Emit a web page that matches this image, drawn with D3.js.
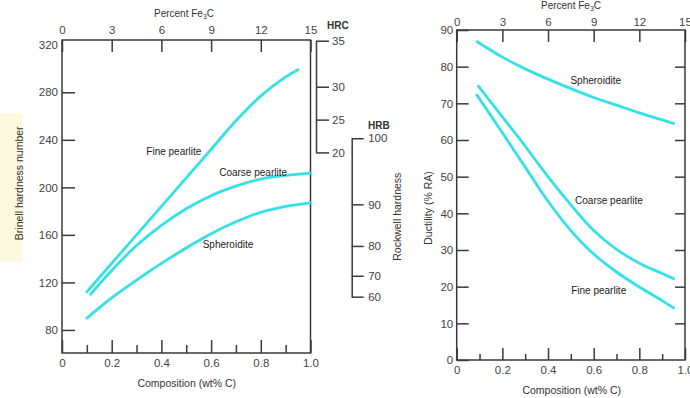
<!DOCTYPE html>
<html>
<head>
<meta charset="utf-8">
<script src="https://cdn.jsdelivr.net/npm/d3@7"></script>
<style>
  body { margin: 0; background: #fff; }
  svg { display: block; font-family: "Liberation Sans", Arial, sans-serif; }
</style>
</head>
<body>
<script>
// ---- values ----

// Brinell hardness vs composition (wt% C)
var fineHbC    = [0.10, 0.20, 0.30, 0.40, 0.50, 0.60, 0.70, 0.80, 0.90, 0.95];
var fineHb     = [112, 136, 160, 184, 208, 232, 256, 277, 293, 299];
var coarseHbC  = [0.115, 0.20, 0.30, 0.40, 0.50, 0.60, 0.70, 0.80, 0.90, 1.00];
var coarseHb   = [110, 130, 151, 168, 182, 193, 201, 207, 210, 212];
var sphHbC     = [0.10, 0.20, 0.30, 0.40, 0.50, 0.60, 0.70, 0.80, 0.90, 1.00];
var sphHb      = [90, 107, 122, 136, 149, 161, 171, 179, 184, 187];

// Ductility (% RA) vs composition (wt% C)
var sphRaC     = [0.09, 0.20, 0.30, 0.40, 0.50, 0.60, 0.70, 0.80, 0.90, 0.95];
var sphRa      = [86.8, 82.6, 79.4, 76.6, 74.0, 71.6, 69.5, 67.4, 65.5, 64.5];
var coarseRaC  = [0.095, 0.20, 0.30, 0.40, 0.50, 0.60, 0.70, 0.80, 0.90, 0.95];
var coarseRa   = [74.7, 66.3, 58.3, 50, 42.3, 35.3, 30.2, 26.4, 23.6, 22.2];
var fineRaC    = [0.088, 0.20, 0.30, 0.40, 0.50, 0.60, 0.70, 0.80, 0.90, 0.95];
var fineRa     = [72.3, 62, 52.6, 43.3, 35.3, 28.9, 24, 19.9, 16.2, 14.2];

// tick labels
var hbTicks    = [80, 120, 160, 200, 240, 280, 320];
var raTicks    = [0, 10, 20, 30, 40, 50, 60, 70, 80, 90];
var compMajor  = [0, 0.2, 0.4, 0.6, 0.8, 1.0];
var compMinor  = [0.1, 0.3, 0.5, 0.7, 0.9];
var fe3cTicks  = [0, 3, 6, 9, 12, 15];

// Rockwell scales and the Brinell number each tick sits at
var hrcTicks   = [20, 25, 30, 35];
var hrcAsHb    = [229.4, 257, 284.7, 323.4];
var hrbTicks   = [60, 70, 80, 90, 100];
var hrbAsHb    = [108, 125.6, 150.7, 185.7, 241.3];

// curve names and where their labels sit (data units)
var hbLabels = [["Fine pearlite", 0.45, 230], ["Coarse pearlite", 0.769, 212.5], ["Spheroidite", 0.668, 152.1]];
var raLabels = [["Spheroidite", 0.609, 76.2], ["Coarse pearlite", 0.667, 43.6], ["Fine pearlite", 0.622, 18.9]];

var W = 690, H = 398;
var axisColor = "#3a3a3a";
var textColor = "#333";
var curveColor = "#33e1e6";

var svg = d3.select("body").append("svg")
  .attr("width", W)
  .attr("height", H);

// pale yellow patch behind the left title
svg.append("rect")
  .attr("x", 0).attr("y", 113)
  .attr("width", 22).attr("height", 149)
  .attr("fill", "#fdf9df");

function styleAxis(g, keepDomain) {
  g.attr("font-size", 11.5).attr("font-family", "'Liberation Sans', Arial, sans-serif");
  if (keepDomain) {
    g.select(".domain").attr("stroke", axisColor).attr("stroke-width", 1.5);
  } else {
    g.select(".domain").remove();
  }
  g.selectAll(".tick line").attr("stroke", axisColor).attr("stroke-width", 1.5);
  g.selectAll(".tick text").attr("fill", "#444");
}

var fmtComp = function(d) { return d === 0 ? "0" : d3.format(".1f")(d); };

function fe3cTitle(cx, base) {
  var t = svg.append("text")
    .attr("x", cx).attr("y", base)
    .attr("text-anchor", "middle")
    .attr("font-size", 10)
    .attr("fill", textColor)
    .text("Percent Fe");
  t.append("tspan").attr("font-size", 7).attr("dy", 2).text("3");
  t.append("tspan").attr("dy", -2).text("C");
}

function drawCurve(xs, ys, x, y) {
  var line = d3.line()
    .x(function(d) { return x(d[0]); })
    .y(function(d) { return y(d[1]); })
    .curve(d3.curveCatmullRom.alpha(0.5));
  svg.append("path")
    .attr("d", line(d3.zip(xs, ys)))
    .attr("fill", "none")
    .attr("stroke", curveColor)
    .attr("stroke-width", 2.8)
    .attr("stroke-linecap", "round");
}

function curveLabels(list, x, y) {
  list.forEach(function(l) {
    svg.append("text")
      .attr("x", x(l[1])).attr("y", y(l[2]))
      .attr("dy", "0.35em")
      .attr("text-anchor", "middle")
      .attr("font-size", 10)
      .attr("fill", "#222")
      .text(l[0]);
  });
}

// ================= left panel: hardness =================
var xL = d3.scaleLinear().domain([0, 1]).range([62, 310.5]);
var fe3cL = d3.scaleLinear().domain([0, 15]).range([62, 310.5]);
var yL = d3.scaleLinear().domain([60.6, 324]).range([353, 40]);

svg.append("rect")
  .attr("x", xL(0)).attr("y", yL(324))
  .attr("width", xL(1) - xL(0)).attr("height", yL(60.6) - yL(324))
  .attr("fill", "none").attr("stroke", axisColor).attr("stroke-width", 1.5);

var gl = svg.append("g")
  .attr("transform", `translate(${xL(0)},0)`)
  .call(d3.axisLeft(yL).tickValues(hbTicks).tickSizeInner(-13).tickSizeOuter(0).tickPadding(4));
styleAxis(gl, false);
gl.selectAll(".tick").filter(function(d) { return d === 320; }).select("line").remove();

var gt = svg.append("g")
  .attr("transform", `translate(0,${yL(324)})`)
  .call(d3.axisTop(fe3cL).tickValues(fe3cTicks).tickSizeInner(-12).tickSizeOuter(0).tickPadding(6));
styleAxis(gt, false);

var gb = svg.append("g")
  .attr("transform", `translate(0,${yL(60.6)})`)
  .call(d3.axisBottom(xL).tickValues(compMajor).tickSizeInner(-13).tickSizeOuter(0).tickPadding(6).tickFormat(fmtComp));
styleAxis(gb, false);
var gbm = svg.append("g")
  .attr("transform", `translate(0,${yL(60.6)})`)
  .call(d3.axisBottom(xL).tickValues(compMinor).tickSizeInner(-8).tickSizeOuter(0).tickFormat(""));
styleAxis(gbm, false);

// Rockwell C and B scales
var hrcScale = d3.scaleLinear().domain(hrcTicks).range(hrcAsHb.map(yL));
var ghrc = svg.append("g")
  .attr("transform", "translate(316,0)")
  .call(d3.axisRight(hrcScale).tickValues(hrcTicks).tickSizeInner(13).tickSizeOuter(0).tickPadding(3));
styleAxis(ghrc, true);

var hrbScale = d3.scaleLinear().domain(hrbTicks).range(hrbAsHb.map(yL));
var ghrb = svg.append("g")
  .attr("transform", "translate(351.7,0)")
  .call(d3.axisRight(hrbScale).tickValues(hrbTicks).tickSizeInner(12).tickSizeOuter(0).tickPadding(4.5));
styleAxis(ghrb, true);

svg.append("text").attr("x", 327).attr("y", 29)
  .attr("font-size", 10).attr("font-weight", "bold").attr("fill", textColor).text("HRC");
svg.append("text").attr("x", 368).attr("y", 128.5)
  .attr("font-size", 10).attr("font-weight", "bold").attr("fill", textColor).text("HRB");

drawCurve(fineHbC, fineHb, xL, yL);
drawCurve(coarseHbC, coarseHb, xL, yL);
drawCurve(sphHbC, sphHb, xL, yL);
curveLabels(hbLabels, xL, yL);

fe3cTitle(184, 16.5);
svg.append("text")
  .attr("x", 186.7).attr("y", 387)
  .attr("text-anchor", "middle").attr("font-size", 10.5).attr("fill", textColor)
  .text("Composition (wt% C)");
svg.append("text")
  .attr("transform", "translate(19,183.3) rotate(-90)")
  .attr("dy", "0.35em")
  .attr("text-anchor", "middle").attr("font-size", 10.5).attr("fill", textColor)
  .text("Brinell hardness number");
svg.append("text")
  .attr("transform", "translate(397,216.7) rotate(-90)")
  .attr("dy", "0.35em")
  .attr("text-anchor", "middle").attr("font-size", 10.5).attr("fill", textColor)
  .text("Rockwell hardness");

// ================= right panel: ductility =================
var xR = d3.scaleLinear().domain([0, 1]).range([456.7, 685]);
var fe3cR = d3.scaleLinear().domain([0, 15]).range([456.7, 685]);
var yR = d3.scaleLinear().domain([0, 90]).range([360, 30]);

svg.append("rect")
  .attr("x", xR(0)).attr("y", yR(90))
  .attr("width", xR(1) - xR(0)).attr("height", yR(0) - yR(90))
  .attr("fill", "none").attr("stroke", axisColor).attr("stroke-width", 1.5);

var grl = svg.append("g")
  .attr("transform", `translate(${xR(0)},0)`)
  .call(d3.axisLeft(yR).tickValues(raTicks).tickSizeInner(-12).tickSizeOuter(0).tickPadding(3.5));
styleAxis(grl, false);

var grr = svg.append("g")
  .attr("transform", `translate(${xR(1)},0)`)
  .call(d3.axisRight(yR).tickValues(raTicks.slice(1, -1)).tickSizeInner(-10).tickSizeOuter(0).tickFormat(""));
styleAxis(grr, false);

var grt = svg.append("g")
  .attr("transform", `translate(0,${yR(90)})`)
  .call(d3.axisTop(fe3cR).tickValues(fe3cTicks).tickSizeInner(-12).tickSizeOuter(0).tickPadding(4));
styleAxis(grt, false);

var grb = svg.append("g")
  .attr("transform", `translate(0,${yR(0)})`)
  .call(d3.axisBottom(xR).tickValues(compMajor).tickSizeInner(-12).tickSizeOuter(0).tickPadding(6).tickFormat(fmtComp));
styleAxis(grb, false);
var grbm = svg.append("g")
  .attr("transform", `translate(0,${yR(0)})`)
  .call(d3.axisBottom(xR).tickValues(compMinor).tickSizeInner(-6).tickSizeOuter(0).tickFormat(""));
styleAxis(grbm, false);

drawCurve(sphRaC, sphRa, xR, yR);
drawCurve(coarseRaC, coarseRa, xR, yR);
drawCurve(fineRaC, fineRa, xR, yR);
curveLabels(raLabels, xR, yR);

fe3cTitle(571, 9);
svg.append("text")
  .attr("x", 571.7).attr("y", 393.5)
  .attr("text-anchor", "middle").attr("font-size", 10.5).attr("fill", textColor)
  .text("Composition (wt% C)");
svg.append("text")
  .attr("transform", "translate(428,208) rotate(-90)")
  .attr("dy", "0.35em")
  .attr("text-anchor", "middle").attr("font-size", 10.5).attr("fill", textColor)
  .text("Ductility (% RA)");
</script>
</body>
</html>
